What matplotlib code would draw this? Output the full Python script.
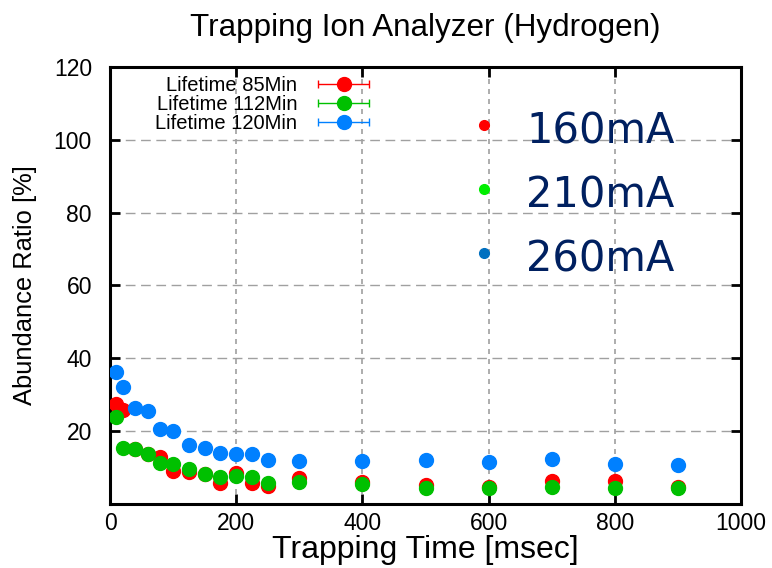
import numpy as np
import matplotlib
matplotlib.use("Agg")
import matplotlib.pyplot as plt
from matplotlib.legend_handler import HandlerErrorbar

# trapping time [msec]
time_160 = [10, 20, 40, 60, 80, 100, 125, 150, 175, 200, 225, 250, 300, 400, 500, 600, 700, 800, 900]
ratio_160 = [27.5, 25.8, 15.2, 13.8, 12.8, 9.1, 8.9, 8.1, 5.7, 8.4, 5.7, 4.9, 7.0, 6.1, 5.2, 4.6, 6.3, 6.4, 4.6]

time_210 = [10, 20, 40, 60, 80, 100, 125, 150, 175, 200, 225, 250, 300, 400, 500, 600, 700, 800, 900]
ratio_210 = [24.0, 15.5, 15.0, 13.6, 11.2, 10.9, 9.5, 8.2, 7.5, 7.7, 7.5, 5.7, 5.9, 5.5, 4.4, 4.3, 4.8, 4.3, 4.5]

time_260 = [10, 20, 40, 60, 80, 100, 125, 150, 175, 200, 225, 250, 300, 400, 500, 600, 700, 800, 900]
ratio_260 = [36.3, 32.0, 26.4, 25.6, 20.6, 20.0, 16.1, 15.5, 14.1, 13.6, 13.8, 12.1, 11.8, 11.8, 12.1, 11.5, 12.4, 10.9, 10.7]

labels = ['Lifetime 85Min', 'Lifetime 112Min', 'Lifetime 120Min']
colors = ['#ff0000', '#00c000', '#0080ff']
currents = ['160mA', '210mA', '260mA']
current_colors = ['#ff0000', '#00ee00', '#0070c0']

plt.rcParams['font.family'] = ['Liberation Sans', 'DejaVu Sans']

fig = plt.figure(figsize=(7.72, 5.68), dpi=100)
ax = fig.add_axes([0.1425, 0.1127, 0.8175, 0.7695])

series = [(time_160, ratio_160), (time_210, ratio_210), (time_260, ratio_260)]
for (t, r), c in zip(series, colors):
    ax.errorbar(t, r, yerr=0.6, fmt='o', color=c, ms=10, elinewidth=1, capsize=0, zorder=3)

# legend proxies (gnuplot style key with horizontal error bars)
handles = []
for c in colors:
    h = ax.errorbar([np.nan], [np.nan], xerr=[1], fmt='o', color=c, ms=10, elinewidth=1, capsize=3)
    handles.append(h)
ax.legend(handles, labels, loc='upper right', bbox_to_anchor=(0.434, 1.012), frameon=False,
          markerfirst=False, fontsize=14.5, handlelength=2.6, handletextpad=1.0,
          labelspacing=0.0, borderpad=0.2,
          handler_map={type(handles[0]): HandlerErrorbar(xerr_size=1.25)})

ax.set_xlim(0, 1000)
ax.set_ylim(0, 120)
ax.set_xticks([0, 200, 400, 600, 800, 1000])
ax.set_yticks([20, 40, 60, 80, 100, 120])
ax.tick_params(direction='in', length=7, width=2, labelsize=16.5, top=True, right=True)
ax.tick_params(axis='x', pad=6)
ax.tick_params(axis='y', pad=13)
for s in ax.spines.values():
    s.set_linewidth(2.2)

for y in [20, 40, 60, 80, 100]:
    ax.axhline(y, color='#a0a0a0', lw=1, ls=(0, (7, 4)), zorder=1)
for x in [200, 400, 600, 800]:
    ax.axvline(x, color='#a0a0a0', lw=1.2, ls=(0, (3, 3)), zorder=1)

ax.set_title('Trapping Ion Analyzer (Hydrogen)', fontsize=22.6, pad=22)
ax.set_xlabel('Trapping Time [msec]', fontsize=23, labelpad=0)
ax.set_ylabel('Abundance Ratio [%]', fontsize=18.4, labelpad=12)

# current annotation
for i, (lab, c) in enumerate(zip(currents, current_colors)):
    yf = (568 - (131 + 64 * i)) / 568
    ax.plot([484 / 772], [yf + 0.011], 'o', color=c, ms=7, transform=fig.transFigure, clip_on=False)
    fig.text(526 / 772, yf, lab, fontsize=30, color='#002060', family='DejaVu Sans', va='center')

fig.savefig('out.png', dpi=100)
